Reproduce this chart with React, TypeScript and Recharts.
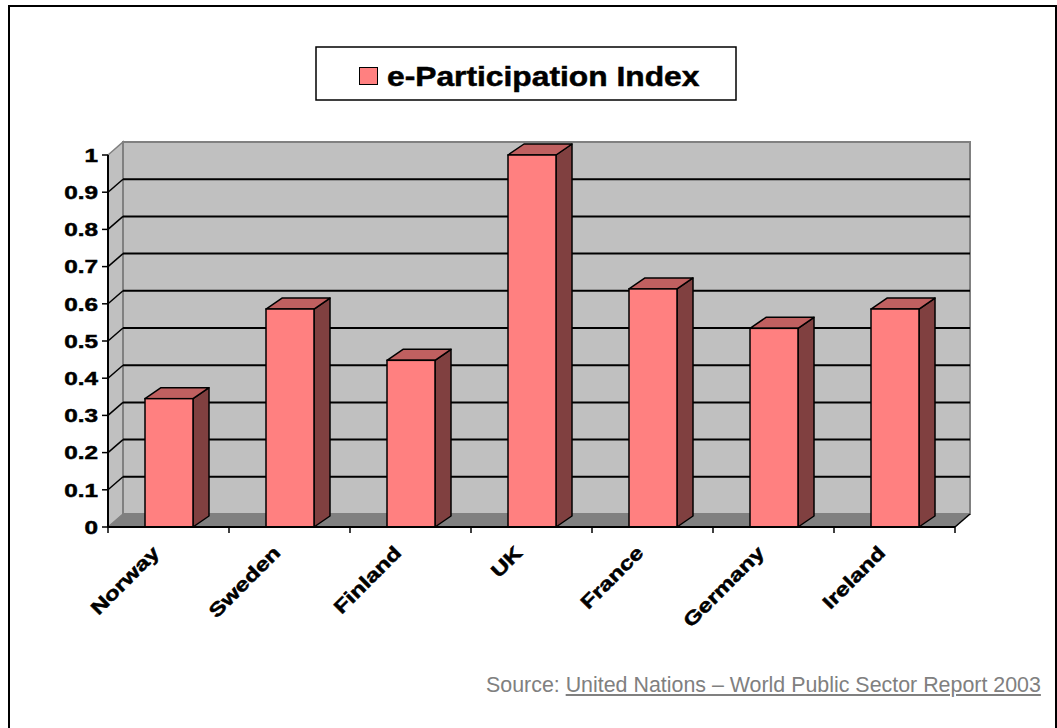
import React from 'react';
import { BarChart, Bar, XAxis, YAxis, CartesianGrid, ReferenceArea, Legend } from 'recharts';

// ---- data ----
const countries = ['Norway', 'Sweden', 'Finland', 'UK', 'France', 'Germany', 'Ireland'];
const indexValues = [0.345, 0.586, 0.448, 1.0, 0.64, 0.534, 0.586];
const yTicks = [0, 0.1, 0.2, 0.3, 0.4, 0.5, 0.6, 0.7, 0.8, 0.9, 1];
const seriesName = 'e-Participation Index';
const sourcePrefix = 'Source:';
const sourceTitle = 'United Nations \u2013 World Public Sector Report 2003';

const data = countries.map((country, i) => ({ country, value: indexValues[i] }));

// ---- layout ----
const W = 1057;
const H = 728;
const PLOT_LEFT = 108;
const PLOT_RIGHT = 955;
const PLOT_TOP = 155;
const PLOT_BOTTOM = 527;
const Y_AXIS_W = 60;
const X_AXIS_H = 60;

// depth offsets of the pseudo-3D box
const WALL_DX = 15;
const WALL_DY = 13;
const BAR_DX = 16;
const BAR_DY = 11;

const FONT = "'Liberation Sans', Arial, Helvetica, sans-serif";
const AXIS_FONT_SIZE = 19;
const TEXT_STRETCH = 1.28;

const FRONT = '#FF8080';
const TOP = '#C06060';
const SIDE = '#804040';

function Walls(props: any) {
  const { x, y, width, height } = props;
  if (x == null || width == null) return null;
  const b = y + height;
  return (
    <g>
      {/* left side wall */}
      <polygon
        points={`${x},${b} ${x},${y} ${x + WALL_DX},${y - WALL_DY} ${x + WALL_DX},${b - WALL_DY}`}
        fill="#C0C0C0"
        stroke="#808080"
        strokeWidth={1.5}
      />
      {/* back wall */}
      <rect x={x + WALL_DX} y={y - WALL_DY} width={width} height={height} fill="#C0C0C0" stroke="#808080" strokeWidth={2} />
      {/* floor */}
      <polygon
        points={`${x},${b} ${x + width},${b} ${x + width + WALL_DX},${b - WALL_DY} ${x + WALL_DX},${b - WALL_DY}`}
        fill="#808080"
      />
      <line x1={x + width} y1={b} x2={x + width + WALL_DX} y2={b - WALL_DY} stroke="#000" strokeWidth={1.5} />
    </g>
  );
}

function gridLine(p: any) {
  const { x1, y1, x2 } = p;
  if (Math.abs(y1 - PLOT_TOP) < 1 || Math.abs(y1 - PLOT_BOTTOM) < 1) return <g key={p.key} />;
  return (
    <g key={p.key}>
      <line x1={x1} y1={y1} x2={x1 + WALL_DX} y2={y1 - WALL_DY} stroke="#000" strokeWidth={1.5} />
      <line x1={x1 + WALL_DX} y1={y1 - WALL_DY} x2={x2 + WALL_DX} y2={y1 - WALL_DY} stroke="#000" strokeWidth={2} />
    </g>
  );
}

function Bar3D(props: any) {
  const { x, y, width, height } = props;
  if (x == null || width == null || height == null) return null;
  const r = x + width;
  const b = y + height;
  return (
    <g>
      <polygon
        points={`${r},${b} ${r + BAR_DX},${b - BAR_DY} ${r + BAR_DX},${y - BAR_DY} ${r},${y}`}
        fill={SIDE}
        stroke="#000"
        strokeWidth={1.5}
        strokeLinejoin="round"
      />
      <polygon
        points={`${x},${y} ${x + BAR_DX},${y - BAR_DY} ${r + BAR_DX},${y - BAR_DY} ${r},${y}`}
        fill={TOP}
        stroke="#000"
        strokeWidth={1.5}
        strokeLinejoin="round"
      />
      <rect x={x} y={y} width={width} height={height} fill={FRONT} stroke="#000" strokeWidth={1.5} />
    </g>
  );
}

function YTick(p: any) {
  const { x, y, payload } = p;
  return (
    <g transform={`translate(${x - 2},${y})`}>
      <text
        transform={`scale(${TEXT_STRETCH},1)`}
        textAnchor="end"
        dy="0.36em"
        fontFamily={FONT}
        fontWeight="bold"
        fontSize={AXIS_FONT_SIZE}
        fill="#000"
        stroke="#000"
        strokeWidth={0.5}
      >
        {String(payload.value)}
      </text>
    </g>
  );
}

function XTick(p: any) {
  const { x, y, payload, index, visibleTicksCount, width } = p;
  const half = payload.offset ?? width / visibleTicksCount / 2;
  const last = index === visibleTicksCount - 1;
  return (
    <g>
      <line x1={x - half} y1={y} x2={x - half} y2={y + 6} stroke="#000" strokeWidth={1.5} />
      {last && <line x1={x + half} y1={y} x2={x + half} y2={y + 6} stroke="#000" strokeWidth={1.5} />}
      <g transform={`translate(${x - 8},${y + 27}) rotate(-45) scale(${TEXT_STRETCH},1)`}>
        <text
          textAnchor="end"
          fontFamily={FONT}
          fontWeight="bold"
          fontSize={AXIS_FONT_SIZE}
          fill="#000"
          stroke="#000"
          strokeWidth={0.5}
        >
          {payload.value}
        </text>
      </g>
    </g>
  );
}

function LegendBox(props: any) {
  const label = props?.payload?.[0]?.value ?? seriesName;
  return (
    <svg width={422} height={55} style={{ display: 'block' }}>
      <rect x={1} y={1} width={420} height={53} fill="#fff" stroke="#000" strokeWidth={1.5} />
      <rect x={44.5} y={21.5} width={18} height={17} fill={FRONT} stroke="#000" strokeWidth={1} />
      <g transform="translate(72,39.5) scale(1.115,1)">
        <text fontFamily={FONT} fontWeight="bold" fontSize={28.5} fill="#000" stroke="#000" strokeWidth={0.5}>
          {label}
        </text>
      </g>
    </svg>
  );
}

export default function App() {
  return (
    <div style={{ position: 'fixed', left: 0, top: 0, width: W, height: H, overflow: 'hidden', background: '#fff' }}>
      <div
        style={{
          position: 'absolute',
          left: 8,
          top: 5,
          width: 1045,
          height: 760,
          border: '2px solid #000',
          boxSizing: 'content-box',
        }}
      />
      <div style={{ position: 'absolute', left: 0, top: 0 }}>
        <BarChart
          width={W}
          height={H}
          data={data}
          barSize={48}
          margin={{
            top: PLOT_TOP,
            right: W - PLOT_RIGHT,
            left: PLOT_LEFT - Y_AXIS_W,
            bottom: H - PLOT_BOTTOM - X_AXIS_H,
          }}
        >
          <ReferenceArea y1={0} y2={1} shape={<Walls />} zIndex={-200} ifOverflow="visible" />
          <CartesianGrid vertical={false} horizontal={gridLine} fill="none" zIndex={-100} />
          <XAxis
            dataKey="country"
            height={X_AXIS_H}
            interval={0}
            tickLine={false}
            tickSize={0}
            tickMargin={0}
            axisLine={{ stroke: '#000', strokeWidth: 2 }}
            tick={<XTick />}
          />
          <YAxis
            width={Y_AXIS_W}
            domain={[0, 1]}
            ticks={yTicks}
            interval={0}
            tickSize={6}
            tickLine={{ stroke: '#000', strokeWidth: 1.5 }}
            axisLine={{ stroke: '#000', strokeWidth: 2 }}
            tick={<YTick />}
          />
          <Legend
            verticalAlign="middle"
            align="center"
            layout="horizontal"
            wrapperStyle={{ left: 315, top: 46, width: 422, height: 55 }}
            content={(props: any) => <LegendBox {...props} />}
          />
          <Bar dataKey="value" name={seriesName} fill={FRONT} shape={<Bar3D />} isAnimationActive={false} />
        </BarChart>
      </div>
      <div
        style={{
          position: 'absolute',
          left: 486,
          top: 673,
          fontFamily: FONT,
          fontSize: 21.4,
          lineHeight: '24px',
          color: '#808080',
          whiteSpace: 'nowrap',
        }}
      >
        {sourcePrefix} <span style={{ textDecoration: 'underline' }}>{sourceTitle}</span>
      </div>
    </div>
  );
}
